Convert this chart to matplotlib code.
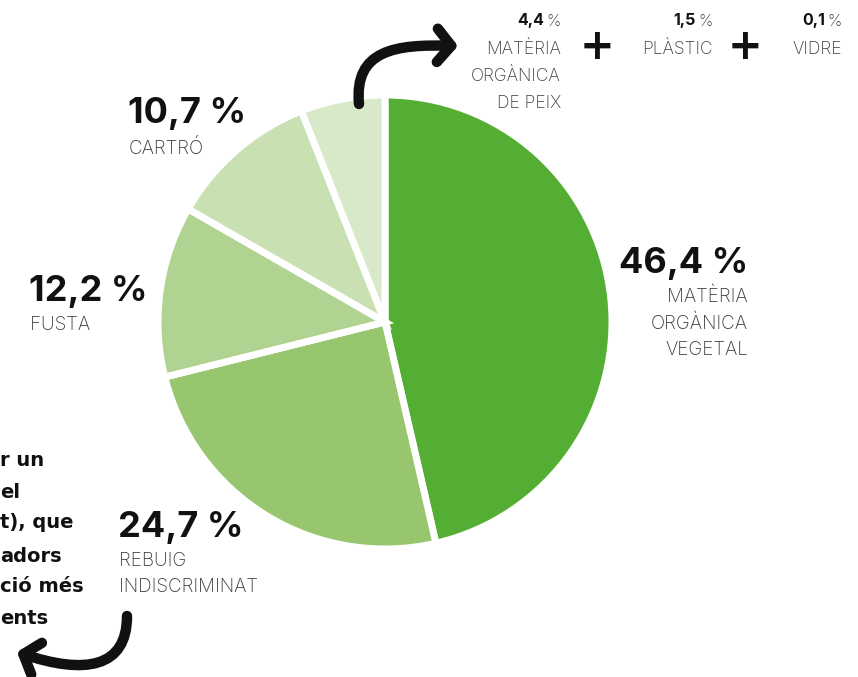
import matplotlib
matplotlib.use("Agg")
import matplotlib.pyplot as plt
from matplotlib.path import Path
from matplotlib.patches import FancyArrowPatch

# ---- data ----
categories = ["Matèria orgànica vegetal", "Rebuig indiscriminat", "Fusta", "Cartró", "Altres"]
values = [46.4, 24.7, 12.2, 10.7, 6.0]
pct_labels = ["46,4 %", "24,7 %", "12,2 %", "10,7 %"]
name_labels = ["MATÈRIA\nORGÀNICA\nVEGETAL", "REBUIG\nINDISCRIMINAT", "FUSTA", "CARTRÓ"]
other_values = ["4,4", "1,5", "0,1"]
other_names = ["MATÈRIA\nORGÀNICA\nDE PEIX", "PLÀSTIC", "VIDRE"]
side_text = ["r un", "el", "t), que", "adors", "ció més", "ents"]

colors = ["#53ae33", "#97c66f", "#b0d391", "#c8e0b2", "#d8e9ca"]

W, H = 858, 677
fig = plt.figure(figsize=(W / 100, H / 100), dpi=100)
ax = fig.add_axes([0, 0, 1, 1])

def Y(y):
    return H - y

# ---- pie ----
ax.pie(values, colors=colors, startangle=90, counterclock=False,
       center=(385, Y(322)), radius=227, frame=True,
       wedgeprops=dict(edgecolor="white", linewidth=5))
ax.set_xlim(0, W)
ax.set_ylim(0, H)
ax.set_aspect("equal")
ax.axis("off")

FAM = ["Inter", "DejaVu Sans"]
num_kw = dict(family=FAM, fontweight="bold", color="#111111", fontsize=26)
lab_kw = dict(family=FAM, fontweight="light", color="#3c3c3c", fontsize=13.5,
              linespacing=1.55)

# 46,4 %
ax.text(748, Y(263), pct_labels[0], ha="right", va="center", **num_kw)
ax.text(748, Y(288), name_labels[0], ha="right", va="top", **lab_kw)
# 24,7 %
ax.text(118, Y(527), pct_labels[1], ha="left", va="center", **num_kw)
ax.text(119, Y(552), name_labels[1], ha="left", va="top", **lab_kw)
# 12,2 %
ax.text(29, Y(292), pct_labels[2], ha="left", va="center", **num_kw)
ax.text(30, Y(316), name_labels[2], ha="left", va="top", **lab_kw)
# 10,7 %
ax.text(128, Y(114), pct_labels[3], ha="left", va="center", **num_kw)
ax.text(129, Y(139), name_labels[3], ha="left", va="top", **lab_kw)

# ---- top small labels ----
small_num = dict(family=FAM, fontweight="bold", color="#111111", fontsize=11.5)
small_pct = dict(family=FAM, fontweight="light", color="#3c3c3c", fontsize=11.5)
small_lab = dict(family=FAM, fontweight="light", color="#3c3c3c", fontsize=12.5,
                 linespacing=1.78)
right_edges = [561, 713, 842]
for xr, v, nm in zip(right_edges, other_values, other_names):
    ax.text(xr, Y(21), "%", ha="right", va="center", **small_pct)
    ax.text(xr - 17, Y(21), v, ha="right", va="center", **small_num)
    ax.text(xr, Y(41), nm, ha="right", va="top", **small_lab)

for xp in [597, 745]:
    ax.text(xp, Y(47), "+", ha="center", va="center", family="DejaVu Sans",
            fontweight="heavy", fontsize=30, color="#111111")

# ---- cut-off side text (left part lies outside the picture) ----
side_y = [461, 492, 523, 556, 587, 618]
for t, yy in zip(side_text, side_y):
    ax.text(0, Y(yy), t, ha="left", va="center", family="DejaVu Sans",
            fontweight="bold", fontsize=14, color="#111111")

# ---- arrows ----
def curved_arrow(pts):
    verts = [(x, Y(y)) for x, y in pts]
    codes = [Path.MOVETO, Path.CURVE4, Path.CURVE4, Path.CURVE4]
    arr = FancyArrowPatch(path=Path(verts, codes),
                          arrowstyle="->,head_length=10,head_width=12",
                          color="#111111", linewidth=7.5, capstyle="round",
                          joinstyle="round", mutation_scale=1)
    ax.add_patch(arr)

curved_arrow([(359, 104), (354, 50), (395, 44), (458, 46)])
curved_arrow([(127, 616), (127, 668), (85, 675), (17, 652)])

fig.savefig("out.png", dpi=100)
